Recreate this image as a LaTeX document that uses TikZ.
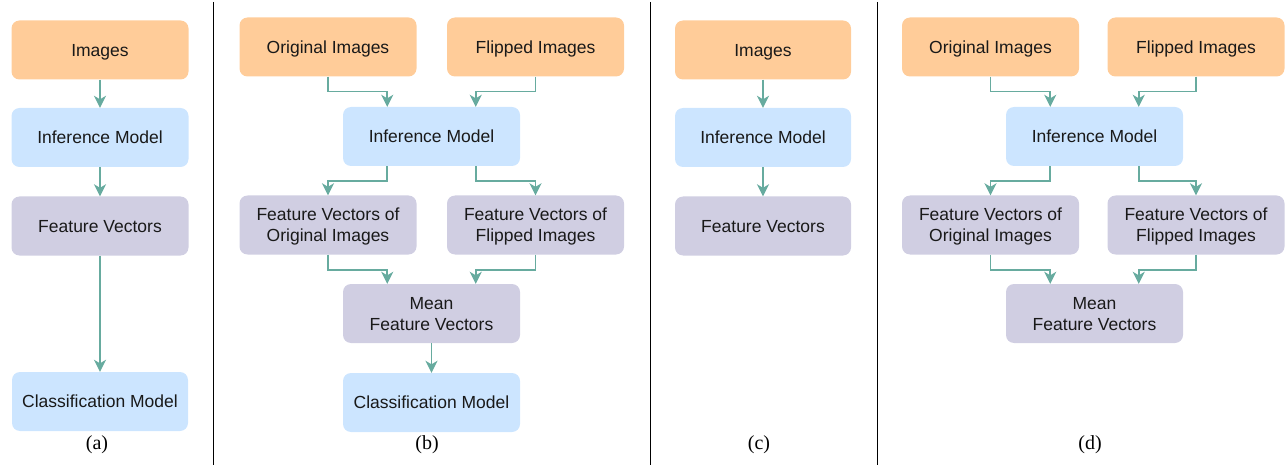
\documentclass[tikz,border=0pt]{standalone}
\usepackage{fontspec}
\setmainfont{Liberation Serif}
\newfontfamily\boxfont{Liberation Sans}
\usetikzlibrary{arrows.meta,calc}
\definecolor{cimg}{HTML}{FFCC99}
\definecolor{cmod}{HTML}{CCE5FF}
\definecolor{cfeat}{HTML}{D0CEE2}
\definecolor{carr}{HTML}{67AB9F}
\tikzset{
  box/.style={rectangle, rounded corners=8pt, minimum width=177pt, minimum height=59pt,
    inner sep=0pt, text depth=0pt, align=center, font=\boxfont\fontsize{17.5}{21}\selectfont, text=black!90},
  imgbox/.style={box, fill=cimg},
  modbox/.style={box, fill=cmod},
  featbox/.style={box, fill=cfeat},
  arr/.style={draw=carr, line width=1.6pt, -{Stealth[length=12pt,width=12pt,inset=3.5pt]}},
  sub/.style={font=\fontsize{20}{22}\selectfont},
  sep/.style={draw=black, line width=1pt}
}
\begin{document}
\begin{tikzpicture}[x=1pt,y=-1pt]
\useasboundingbox (0,0) rectangle (1285,465);
% separators
\coordinate (s1t) at (213,2); \coordinate (s1b) at (213,465);
\coordinate (s2t) at (650,2); \coordinate (s2b) at (650,465);
\coordinate (s3t) at (877,2); \coordinate (s3b) at (877,465);
\draw[sep] (s1t) -- (s1b);
\draw[sep] (s2t) -- (s2b);
\draw[sep] (s3t) -- (s3b);
% ---------- (a)
\node[imgbox] (aI) at (100,50) {Images};
\node[modbox] (aM) at (100,137.5) {Inference Model};
\node[featbox] (aF) at (100,226) {Feature Vectors};
\node[modbox, minimum width=176pt] (aC) at (100,401.5) {Classification Model};
\node[sub] (la) at (97,445) {(a)};
\draw[arr] (aI) -- (aM);
\draw[arr] (aM) -- (aF);
\draw[arr] (aF) -- (aC);
% ---------- (b)
\node[imgbox] (bO) at (328,47) {Original Images};
\node[imgbox] (bF) at (535.5,47) {Flipped Images};
\node[modbox] (bM) at (431.5,136.5) {Inference Model};
\node[featbox] (bFO) at (328,225) {Feature Vectors of\\Original Images};
\node[featbox] (bFF) at (535.5,225) {Feature Vectors of\\Flipped Images};
\node[featbox] (bMe) at (431.5,313.5) {Mean\\Feature Vectors};
\node[modbox] (bC) at (431.5,402.5) {Classification Model};
\node[sub] (lb) at (427,445) {(b)};
\draw[arr] (bO.south) -- ++(0,15) -| ($(bM.north)+(-44.25,0)$);
\draw[arr] (bF.south) -- ++(0,15) -| ($(bM.north)+(44.25,0)$);
\draw[arr] ($(bM.south)+(-44.25,0)$) -- ++(0,15) -| (bFO.north);
\draw[arr] ($(bM.south)+(44.25,0)$) -- ++(0,15) -| (bFF.north);
\draw[arr] (bFO.south) -- ++(0,15) -| ($(bMe.north)+(-44.25,0)$);
\draw[arr] (bFF.south) -- ++(0,15) -| ($(bMe.north)+(44.25,0)$);
\draw[arr] (bMe) -- (bC);
% ---------- (c)
\node[imgbox, minimum width=176pt] (cI) at (763,50) {Images};
\node[modbox, minimum width=176pt] (cM) at (763,137.5) {Inference Model};
\node[featbox, minimum width=176pt] (cF) at (763,226) {Feature Vectors};
\node[sub] (lc) at (759,445) {(c)};
\draw[arr] (cI) -- (cM);
\draw[arr] (cM) -- (cF);
% ---------- (d)
\node[imgbox] (dO) at (990.5,47) {Original Images};
\node[imgbox] (dF) at (1196,47) {Flipped Images};
\node[modbox] (dM) at (1094.5,136.5) {Inference Model};
\node[featbox] (dFO) at (990.5,225) {Feature Vectors of\\Original Images};
\node[featbox] (dFF) at (1196,225) {Feature Vectors of\\Flipped Images};
\node[featbox] (dMe) at (1094.5,313.5) {Mean\\Feature Vectors};
\node[sub] (ld) at (1090,445) {(d)};
\draw[arr] (dO.south) -- ++(0,15) -| ($(dM.north)+(-44.25,0)$);
\draw[arr] (dF.south) -- ++(0,15) -| ($(dM.north)+(44.25,0)$);
\draw[arr] ($(dM.south)+(-44.25,0)$) -- ++(0,15) -| (dFO.north);
\draw[arr] ($(dM.south)+(44.25,0)$) -- ++(0,15) -| (dFF.north);
\draw[arr] (dFO.south) -- ++(0,15) -| ($(dMe.north)+(-44.25,0)$);
\draw[arr] (dFF.south) -- ++(0,15) -| ($(dMe.north)+(44.25,0)$);
\end{tikzpicture}
\end{document}
